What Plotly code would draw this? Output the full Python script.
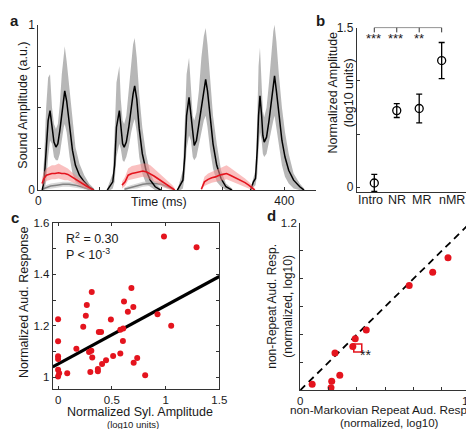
import plotly.graph_objects as go

# ---------------- Panel a data (time in ms, amplitude a.u.) ----------------
s1_t = [6.3, 9.5, 12.7, 15.9, 19, 22.2, 25.4, 28.6, 31.7, 34.9, 38.1, 41.3, 42.9, 46, 50.8, 55.5, 60.3, 66.7, 74.6, 82.5, 90.5]
s1_mean = [0, .06, .24, .42, .48, .39, .29, .26, .28, .36, .47, .56, .60, .54, .39, .24, .15, .09, .05, .02, 0]
s1_up = [.02, .2, .5, .68, .70, .5, .4, .37, .4, .52, .7, .84, .87, .78, .6, .4, .26, .16, .09, .04, .01]
s1_lo = [0, 0, .05, .2, .3, .28, .2, .18, .18, .22, .3, .38, .40, .35, .2, .1, .05, .03, .01, 0, 0]

s2_t = [112, 117, 121, 124, 127, 131.7, 134, 137, 139.5, 143, 147, 151, 154, 156.6, 160, 164, 169, 175, 182, 190, 199]
s2_mean = [0, .03, .05, .15, .38, .48, .38, .28, .26, .29, .38, .5, .58, .63, .55, .37, .22, .12, .06, .02, 0]
s2_up = [.01, .06, .1, .35, .65, .75, .55, .42, .40, .45, .6, .78, .88, .92, .8, .58, .38, .22, .1, .04, .01]
s2_lo = [0, 0, .01, .05, .2, .28, .25, .18, .17, .2, .26, .35, .4, .43, .35, .2, .1, .04, .02, 0, 0]

s3_t = [226, 231, 235, 238, 241, 245, 248, 251, 253.4, 257, 261, 265, 269, 272, 275, 279, 284, 290, 297, 305, 315]
s3_mean = [0, .03, .06, .2, .45, .56, .45, .32, .27, .3, .4, .52, .62, .67, .6, .45, .28, .15, .07, .02, 0]
s3_up = [0, .06, .12, .4, .7, .8, .62, .45, .42, .47, .6, .8, .93, .98, .88, .68, .45, .28, .12, .04, .01]
s3_lo = [0, 0, .01, .08, .25, .33, .3, .2, .18, .2, .27, .35, .42, .45, .38, .25, .13, .05, .02, 0, 0]

s4_t = [345, 349.7, 353, 356, 358, 360.3, 363, 365, 367.2, 371, 375, 379, 382, 384, 387, 391, 396, 401, 407, 415, 425, 432]
s4_mean = [0, .05, .07, .25, .45, .57, .45, .33, .29, .32, .42, .55, .64, .69, .6, .45, .3, .2, .12, .06, .02, 0]
s4_up = [.01, .08, .12, .45, .75, .86, .65, .48, .44, .5, .65, .85, .96, 1.0, .9, .7, .5, .35, .22, .1, .04, .01]
s4_lo = [0, .02, .03, .1, .25, .35, .3, .22, .2, .22, .28, .36, .42, .45, .38, .28, .15, .08, .04, .01, 0, 0]

r1_t = [6, 9, 13, 17, 22, 27, 33, 38, 43, 48, 54, 60, 66, 72, 78, 84, 90]
r1_mean = [.04, .07, .09, .095, .1, .1, .105, .1, .1, .095, .08, .065, .05, .035, .025, .012, 0]
r1_up = [.07, .11, .13, .14, .15, .15, .16, .15, .14, .13, .11, .09, .075, .06, .045, .025, .005]
r1_lo = [.02, .04, .055, .06, .065, .065, .07, .065, .06, .06, .05, .04, .03, .015, .008, 0, 0]

r2_t = [136, 141, 146, 152, 158, 164, 170, 176, 182, 188, 194, 200, 206, 212, 218, 222]
r2_mean = [.03, .05, .09, .1, .105, .11, .115, .11, .1, .085, .07, .055, .04, .025, .01, 0]
r2_up = [.05, .08, .13, .145, .15, .155, .16, .16, .15, .13, .11, .09, .07, .05, .03, .01]
r2_lo = [.01, .025, .06, .065, .07, .075, .08, .075, .065, .05, .04, .03, .015, .005, 0, 0]

r3_t = [265, 270, 276, 282, 288, 294, 300, 306, 312, 318, 324, 330, 336, 342, 348, 352]
r3_mean = [.005, .05, .065, .075, .08, .09, .095, .1, .09, .08, .07, .055, .045, .03, .015, 0]
r3_up = [.015, .08, .1, .11, .12, .13, .14, .15, .135, .12, .1, .085, .07, .05, .03, .01]
r3_lo = [0, .025, .035, .045, .05, .055, .06, .065, .055, .05, .04, .03, .02, .01, 0, 0]

g1_t = [6, 12, 20, 30, 40, 50, 60, 70, 80, 88]
g1_mean = [.005, .015, .025, .03, .035, .035, .03, .02, .01, 0]
g1_up = [.015, .03, .04, .045, .05, .05, .045, .035, .02, .005]
g1_lo = [0, .005, .01, .015, .02, .02, .015, .008, 0, 0]

g2_t = [140, 150, 160, 170, 180, 190, 200, 210, 220]
g2_mean = [.005, .015, .025, .035, .04, .04, .035, .02, .005]
g2_up = [.015, .03, .04, .05, .055, .055, .05, .035, .015]
g2_lo = [0, .005, .01, .02, .025, .025, .02, .008, 0]

a_xticks = [0, 400]
a_xminor = [100, 200, 300]
a_yticks = [0, 1]
a_yminor = [0.25, 0.5, 0.75]

# ---------------- Panel b data ----------------
b_cats = ["Intro", "NR", "MR", "nMR"]
b_pos = [1, 2, 3, 4]
b_label_pos = [0.83, 2.0, 3.1, 4.45]
b_vals = [0.04, 0.72, 0.74, 1.19]
b_err = [0.08, 0.065, 0.135, 0.17]
b_stars = ["***", "***", "**"]
b_star_pos = [0.97, 1.93, 2.98]
b_yticks = [0, 1.5]
b_yminor = [0.5, 1.0]

# ---------------- Panel c data ----------------
c_x = [0.985, 1.288, 0.682, 0.313, 0.267, 0.613, 0.700, 0.649, 0.258, 0.0, 0.491, 0.925,
       0.234, 0.379, 0.40, 0.579, 0.606, 0.0, 0.603, 0.170, 0.309, 0.288, 0.0, 0.0,
       0.318, 0.512, 0.579, 0.446, 0.409, 0.736, 0.703, 0.37, 0.37, 0.30, 0.0, 0.01,
       0.0, 0.085, 0.81, 1.052]
c_y = [1.547, 1.506, 1.347, 1.332, 1.281, 1.295, 1.273, 1.255, 1.239, 1.226, 1.225, 1.245,
       1.196, 1.176, 1.176, 1.185, 1.190, 1.140, 1.141, 1.111, 1.103, 1.098, 1.082, 1.071,
       1.077, 1.083, 1.092, 1.066, 1.052, 1.075, 1.056, 1.032, 1.023, 1.020, 1.029, 1.016,
       1.003, 1.016, 1.008, 1.200]
c_fit_x = [-0.05, 1.5]
c_fit_y = [1.040, 1.392]
c_xticks = [0, 0.5, 1, 1.5]
c_xticktext = ["0", "0.5", "1", "1.5"]
c_yticks = [1.0, 1.2, 1.4, 1.6]
c_yticktext = ["1", "1.2", "1.4", "1.6"]
c_yminor = [1.1, 1.3, 1.5]

# ---------------- Panel d data ----------------
d_x = [1.044, 0.936, 0.770, 0.467, 0.389, 0.372, 0.246, 0.280, 0.223, 0.218, 0.085]
d_y = [0.951, 0.846, 0.751, 0.432, 0.370, 0.314, 0.268, 0.109, 0.065, 0.018, 0.044]
d_sq_x = [0.407]
d_sq_y = [0.303]
d_diag = [0, 1.2]
d_xticks = [0, 1.2]
d_yticks = [1.2]
d_minor = [0.2, 0.4, 0.6, 0.8, 1.0]

W, H = 474, 429
FONT = "Liberation Sans, Arial, Helvetica, sans-serif"
RED = "rgb(228,20,30)"
TXT = "#1a1a1a"


def px(x):
    return x / W


def py(y):
    return 1 - y / H


fig = go.Figure()


def band(t, up, lo, color, axis):
    fig.add_trace(go.Scatter(x=t + t[::-1], y=up + lo[::-1], fill="toself", fillcolor=color,
                             line=dict(width=0), mode="lines", hoverinfo="skip",
                             showlegend=False, xaxis=axis[0], yaxis=axis[1]))


def line(t, m, color, w, axis):
    fig.add_trace(go.Scatter(x=t, y=m, mode="lines", line=dict(color=color, width=w),
                             showlegend=False, xaxis=axis[0], yaxis=axis[1]))


A = ("x", "y")
for t, up, lo in [(s1_t, s1_up, s1_lo), (s2_t, s2_up, s2_lo), (s3_t, s3_up, s3_lo), (s4_t, s4_up, s4_lo)]:
    band(t, up, lo, "rgba(165,165,165,0.8)", A)
for t, up, lo in [(g1_t, g1_up, g1_lo), (g2_t, g2_up, g2_lo)]:
    band(t, up, lo, "rgba(190,190,190,0.6)", A)
for t, m in [(g1_t, g1_mean), (g2_t, g2_mean)]:
    line(t, m, "rgb(130,130,130)", 1.5, A)
for t, m in [(s1_t, s1_mean), (s2_t, s2_mean), (s3_t, s3_mean), (s4_t, s4_mean)]:
    line(t, m, "black", 1.5, A)
for t, up, lo in [(r1_t, r1_up, r1_lo), (r2_t, r2_up, r2_lo), (r3_t, r3_up, r3_lo)]:
    band(t, up, lo, "rgba(245,140,140,0.55)", A)
for t, m in [(r1_t, r1_mean), (r2_t, r2_mean), (r3_t, r3_mean)]:
    line(t, m, RED, 1.6, A)

# Panel b
fig.add_trace(go.Scatter(x=b_pos, y=b_vals, mode="markers",
                         marker=dict(symbol="circle-open", size=8, color="black", line=dict(width=1.3)),
                         error_y=dict(type="data", array=b_err, color="black", thickness=1.3, width=3),
                         showlegend=False, xaxis="x2", yaxis="y2"))

# Panel c
fig.add_trace(go.Scatter(x=c_fit_x, y=c_fit_y, mode="lines", line=dict(color="black", width=3.2),
                         showlegend=False, xaxis="x3", yaxis="y3"))
fig.add_trace(go.Scatter(x=c_x, y=c_y, mode="markers", marker=dict(color=RED, size=6),
                         showlegend=False, xaxis="x3", yaxis="y3"))

# Panel d
fig.add_trace(go.Scatter(x=d_diag, y=d_diag, mode="lines",
                         line=dict(color="black", width=1.8, dash="7px,5px"),
                         showlegend=False, xaxis="x4", yaxis="y4"))
fig.add_trace(go.Scatter(x=d_x, y=d_y, mode="markers", marker=dict(color=RED, size=7),
                         showlegend=False, xaxis="x4", yaxis="y4"))
fig.add_trace(go.Scatter(x=d_sq_x, y=d_sq_y, mode="markers",
                         marker=dict(symbol="square-open", color=RED, size=8, line=dict(width=1.5)),
                         showlegend=False, xaxis="x4", yaxis="y4"))

tickfont = dict(family=FONT, size=12, color=TXT)
smallfont = dict(family=FONT, size=11.5, color=TXT)
common = dict(showgrid=False, zeroline=False, ticks="inside", ticklen=3, tickcolor="#333",
              showline=True, linecolor="#333", linewidth=1, tickangle=0)


def minor(vals):
    return dict(tickvals=vals, ticks="inside", ticklen=3, tickcolor="#333", showgrid=False)


layout = dict(
    width=W, height=H, margin=dict(l=0, r=0, t=0, b=0),
    paper_bgcolor="white", plot_bgcolor="rgba(0,0,0,0)", showlegend=False,
    xaxis=dict(domain=[px(28), px(312)], range=[0, 451], tickvals=a_xticks, tickfont=tickfont,
               minor=minor(a_xminor), anchor="y", **common),
    yaxis=dict(domain=[py(181), py(10)], range=[0, 1], tickvals=a_yticks, tickfont=tickfont,
               minor=minor(a_yminor), anchor="x", **common),
    xaxis2=dict(domain=[px(354), 1.0], range=[0.22, 5.44], tickvals=b_pos,
                showticklabels=False, anchor="y2",
                **{k: v for k, v in common.items() if k != "ticks"}, ticks=""),
    yaxis2=dict(domain=[py(183), py(13)], range=[-0.045, 1.5], tickvals=b_yticks, tickfont=tickfont,
                ticktext=["0", "1.5"], minor=minor(b_yminor), anchor="x2", **common),
    xaxis3=dict(domain=[px(42.7), px(213.3)], range=[-0.05, 1.5], tickvals=c_xticks, tickfont=smallfont,
                ticktext=c_xticktext, anchor="y3", mirror="ticks", **common),
    yaxis3=dict(domain=[py(386.7), py(215)], range=[0.954, 1.6], tickvals=c_yticks, tickfont=smallfont,
                ticktext=c_yticktext, minor=minor(c_yminor), anchor="x3", mirror="ticks", **common),
    xaxis4=dict(domain=[px(296), px(470)], range=[0, 1.2], tickvals=d_xticks, tickfont=smallfont,
                ticktext=["0", "1.2"], minor=minor(d_minor), anchor="y4", **common),
    yaxis4=dict(domain=[py(388), py(215)], range=[0, 1.2], tickvals=d_yticks, tickfont=smallfont,
                ticktext=["1.2"], minor=minor(d_minor), anchor="x4", **common),
)
fig.update_layout(**layout)

ann = []


def text(x, y, s, size=12.5, angle=0, bold=False, xanchor="center", yanchor="middle"):
    ann.append(dict(x=px(x), y=py(y), xref="paper", yref="paper", text=("<b>%s</b>" % s if bold else s),
                    showarrow=False, textangle=angle, xanchor=xanchor, yanchor=yanchor,
                    font=dict(family=FONT, size=size, color=TXT)))


# panel letters
text(4, 6, "a", 15, bold=True)
text(317, 6, "b", 15, bold=True)
text(4, 209, "c", 15, bold=True)
text(267, 207, "d", 15, bold=True)

# panel a titles
text(12, 93, "Sound Amplitude (a.u.)", 12.5, angle=-90)
text(152, 193, "Time (ms)", 12.5)

# panel b titles
text(338, 80, "Normalized Amplitude<br>(log10 units)", 12.5, angle=-90)

# panel c titles
text(14, 297, "Normalized Aud. Response", 12.5, angle=-90)
text(132, 410, "Normalized Syl. Amplitude", 12.5)
text(125, 423, "(log10 units)", 9.5)
text(54, 231, "R<sup>2</sup> = 0.30", 12.5, xanchor="left")
text(54, 247, "P &lt; 10<sup>-3</sup>", 12.5, xanchor="left")

# panel d titles
text(378, 408, "non-Markovian Repeat Aud. Resp.", 11.8)
text(388, 421.5, "(normalized, log10)", 11.5)
text(276, 301, "non-Repeat Aud. Resp.<br>(normalized, log10)", 12, angle=-90)

fig.update_layout(annotations=ann)

# panel b category labels
for s, p in zip(b_cats, b_label_pos):
    fig.add_annotation(x=p, y=py(191.5), xref="x2", yref="paper", text=s, showarrow=False,
                       font=dict(family=FONT, size=12.5, color=TXT))

# panel b significance bracket and stars (data coords on x2/y2)
shapes = [dict(type="line", xref="x2", yref="y2", x0=b_pos[0], x1=b_pos[-1], y0=1.5, y1=1.5,
               line=dict(color="#333", width=1))]
for p in b_pos:
    shapes.append(dict(type="line", xref="x2", yref="y2", x0=p, x1=p, y0=1.5, y1=1.455,
                       line=dict(color="#333", width=1)))
fig.update_layout(shapes=shapes)
for s, p in zip(b_stars, b_star_pos):
    fig.add_annotation(x=p, y=1.40, xref="x2", yref="y2", text=s, showarrow=False,
                       font=dict(family=FONT, size=13, color=TXT))
fig.add_annotation(x=0.46, y=0.25, xref="x4", yref="y4", text="**", showarrow=False,
                   font=dict(family=FONT, size=14, color=TXT))

fig.write_html("out.html")
